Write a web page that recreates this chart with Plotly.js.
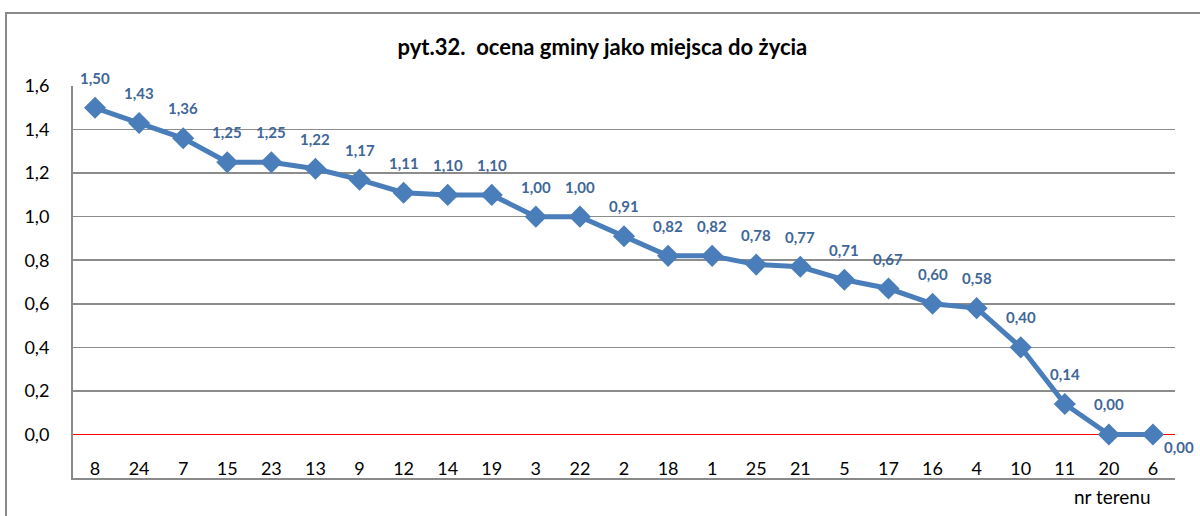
<!DOCTYPE html>
<html><head><meta charset="utf-8">
<script src="https://cdn.plot.ly/plotly-3.0.1.min.js"></script>
<style>
html,body{margin:0;padding:0;background:#fff;}
#wrap{position:relative;width:1200px;height:516px;overflow:hidden;}
#chart{position:absolute;left:0;top:0;width:1200px;height:516px;}
#frame{position:absolute;left:5px;top:12px;width:1300px;height:600px;border-left:2px solid #8a8a8a;border-top:2px solid #8a8a8a;pointer-events:none;}
</style>
</head><body>
<div id="wrap"><div id="chart"></div><div id="frame"></div></div>
<script>
const categories = ['8','24','7','15','23','13','9','12','14','19','3','22','2','18','1','25','21','5','17','16','4','10','11','20','6'];
const values = [1.50,1.43,1.36,1.25,1.25,1.22,1.17,1.11,1.10,1.10,1.00,1.00,0.91,0.82,0.82,0.78,0.77,0.71,0.67,0.60,0.58,0.40,0.14,0.00,0.00];
const titleText = 'pyt.32.  ocena gminy jako miejsca do życia';
const xTitle = 'nr terenu';

const FONT = 'Lato, "Open Sans", sans-serif';
const lineColor = '#4A7EBB';
const labelColor = '#3F6797';

const fmt = v => v.toFixed(2).replace('.', ',');
const idx = categories.map((c, i) => i);

const annotations = categories.map((c, i) => {
  const last = i === categories.length - 1;
  return {
    x: idx[i], y: values[i], xref: 'x', yref: 'y',
    text: '<b>' + fmt(values[i]) + '</b>', showarrow: false,
    xshift: last ? 26 : 0, yshift: last ? -13 : 30,
    font: {family: FONT, size: 15, color: labelColor}
  };
});
annotations.push({
  xref: 'paper', yref: 'paper', x: 1.0, y: 0, xanchor: 'right', yanchor: 'middle',
  xshift: -22, yshift: -18, text: xTitle, showarrow: false,
  font: {family: FONT, size: 19, color: '#000'}
});

const trace = {
  x: idx, y: values, type: 'scatter', mode: 'lines+markers',
  line: {color: lineColor, width: 5},
  marker: {symbol: 'diamond', size: 17, color: lineColor},
  hoverinfo: 'skip', cliponaxis: false
};

const layout = {
  width: 1200, height: 516,
  margin: {l: 73, r: 25, t: 86, b: 38},
  paper_bgcolor: '#fff', plot_bgcolor: '#fff',
  separators: ', ',
  showlegend: false,
  title: {text: '<b>' + titleText + '</b>', x: 0.502, xref: 'container', xanchor: 'center',
          y: 1 - 47/516, yref: 'container', yanchor: 'middle',
          font: {family: FONT, size: 22, color: '#000'}},
  xaxis: {
    type: 'linear', range: [-0.5, categories.length - 0.5],
    tickmode: 'array', tickvals: idx, ticktext: categories,
    showgrid: false, zeroline: false,
    showline: true, linecolor: '#8a8a8a', linewidth: 2,
    ticks: '', ticklabelposition: 'inside',
    tickfont: {family: FONT, size: 18, color: '#000'}
  },
  yaxis: {
    range: [-0.2, 1.6], dtick: 0.2, tick0: 0, tickformat: '.1f',
    showgrid: true, gridcolor: '#8c8c8c', gridwidth: 1.5,
    zeroline: true, zerolinecolor: '#ff0000', zerolinewidth: 1.5,
    showline: true, linecolor: '#8a8a8a', linewidth: 2,
    ticks: 'outside', ticklen: 18, tickcolor: 'rgba(0,0,0,0)',
    tickfont: {family: FONT, size: 18, color: '#000'}
  },
  annotations: annotations
};

Plotly.newPlot('chart', [trace], layout, {displayModeBar: false, staticPlot: true});
</script>
</body></html>
